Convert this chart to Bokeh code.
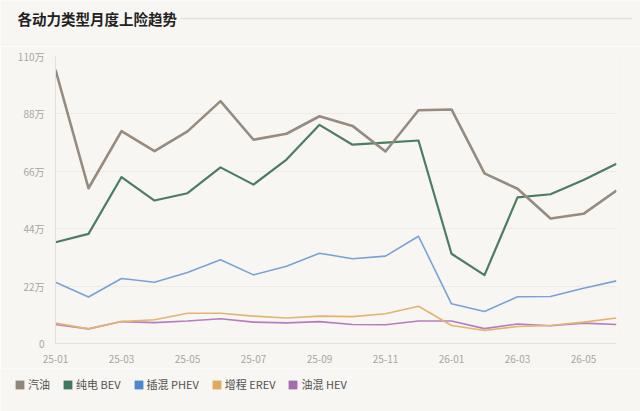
from bokeh.plotting import figure
from bokeh.models import (Range1d, FixedTicker, Legend, LegendItem)
from bokeh.layouts import column
from bokeh.embed import file_html
from bokeh.resources import INLINE
from bokeh.core.properties import value

# ---- data (万辆) ----
months = ["25-01", "25-02", "25-03", "25-04", "25-05", "25-06", "25-07", "25-08", "25-09",
          "25-10", "25-11", "25-12", "26-01", "26-02", "26-03", "26-04", "26-05", "26-06"]
gasoline = [104.9, 59.5, 81.4, 73.7, 81.3, 92.9, 78.1, 80.4, 87.1,
            83.4, 73.6, 89.4, 89.7, 65.2, 59.3, 47.9, 49.7, 58.6]
bev = [38.8, 42.0, 63.8, 54.8, 57.6, 67.5, 60.9, 70.5, 83.8,
       76.2, 77.0, 77.8, 34.4, 26.2, 56.0, 57.2, 62.7, 68.9]
phev = [23.5, 17.8, 24.9, 23.5, 27.2, 32.1, 26.3, 29.6, 34.6,
        32.5, 33.5, 41.1, 15.2, 12.3, 17.9, 18.0, 21.2, 24.0]
erev = [7.8, 5.6, 8.4, 9.1, 11.6, 11.6, 10.5, 9.8, 10.5,
        10.3, 11.4, 14.3, 6.9, 5.0, 6.5, 6.9, 8.2, 9.8]
hev = [7.3, 5.6, 8.4, 8.0, 8.6, 9.5, 8.2, 7.9, 8.4,
       7.3, 7.2, 8.6, 8.6, 5.7, 7.5, 6.8, 7.8, 7.3]
y_ticks = [0, 22, 44, 66, 88, 110]
y_tick_labels = ["0", "22万", "44万", "66万", "88万", "110万"]
series_names = ["汽油", "纯电 BEV", "插混 PHEV", "增程 EREV", "油混 HEV"]
title_text = "各动力类型月度上险趋势"

BG = "#f7f6f2"
FONT = "Noto Sans CJK SC"
line_colors = ["#968b80", "#4b7d64", "#7aa2d6", "#e3b470", "#b57cc0"]
legend_colors = ["#8f877c", "#3f7a5e", "#4d88cf", "#dcab5e", "#a66bad"]
line_widths = [2.6, 2.2, 1.6, 1.6, 1.6]

W = 640
HDR_H = 46
LEG_H = 43
MAIN_H = 411 - HDR_H - LEG_H


def blank(h):
    f = figure(width=W, height=h, x_range=Range1d(0, W), y_range=Range1d(0, h),
               output_backend="svg", toolbar_location=None,
               x_axis_location=None, y_axis_location=None, min_border=0)
    f.background_fill_color = BG
    f.border_fill_color = BG
    f.outline_line_color = None
    f.grid.visible = False
    return f


# ---- header with title and rule ----
hdr = blank(HDR_H)
hdr.text(x=[17], y=[HDR_H - 18], text=[title_text], text_font=value(FONT), text_font_style="bold",
         text_font_size="14.5px", text_color="#222222", text_baseline="middle", text_align="left")
hdr.segment(x0=[180], y0=[HDR_H - 18], x1=[632], y1=[HDR_H - 18], line_color="#e4e2dd", line_width=1.5)

# ---- main chart ----
x = list(range(len(months)))
p = figure(width=W, height=MAIN_H, x_range=Range1d(0, len(months) - 1), y_range=Range1d(0, 110),
           output_backend="svg", toolbar_location=None,
           min_border_top=10, min_border_left=55, min_border_right=24, min_border_bottom=25)
p.background_fill_color = BG
p.border_fill_color = BG
p.outline_line_color = None

p.xaxis.ticker = FixedTicker(ticks=x[::2])
p.xaxis.major_label_overrides = {i: months[i] for i in x}
p.yaxis.ticker = FixedTicker(ticks=y_ticks)
p.yaxis.major_label_overrides = {t: l for t, l in zip(y_ticks, y_tick_labels)}
for ax in (p.xaxis, p.yaxis):
    ax.major_tick_line_color = None
    ax.minor_tick_line_color = None
    ax.axis_line_color = "#e2e0db"
    ax.major_label_text_color = "#a8a6a2"
    ax.major_label_text_font = FONT
    ax.major_label_text_font_size = "10px"
p.xaxis.major_label_standoff = 5
p.yaxis.major_label_standoff = 5
p.xgrid.grid_line_color = None
p.ygrid.grid_line_color = "#ecebe6"
p.ygrid.grid_line_width = 1

all_series = [gasoline, bev, phev, erev, hev]
for vals, c, lw in reversed(list(zip(all_series, line_colors, line_widths))):
    p.line(x, vals, line_color=c, line_width=lw, line_join="round")

# ---- legend strip (zero-area swatch renderers, shown only in the legend) ----
leg = blank(LEG_H)
items = []
for name, c in zip(series_names, legend_colors):
    r = leg.quad(left=[0], right=[0], top=[0], bottom=[0], fill_color=c, line_color=None)
    items.append(LegendItem(label=name, renderers=[r]))

legend = Legend(items=items, orientation="horizontal", location=(14, 19),
                glyph_width=11, glyph_height=11, label_standoff=3, spacing=12,
                padding=0, margin=0, background_fill_alpha=0, border_line_color=None,
                label_text_font=FONT, label_text_font_size="11px", label_text_color="#505050")
leg.add_layout(legend, "center")

layout = column(hdr, column(p), leg, spacing=0)
open("out.html", "w").write(file_html(layout, INLINE))
